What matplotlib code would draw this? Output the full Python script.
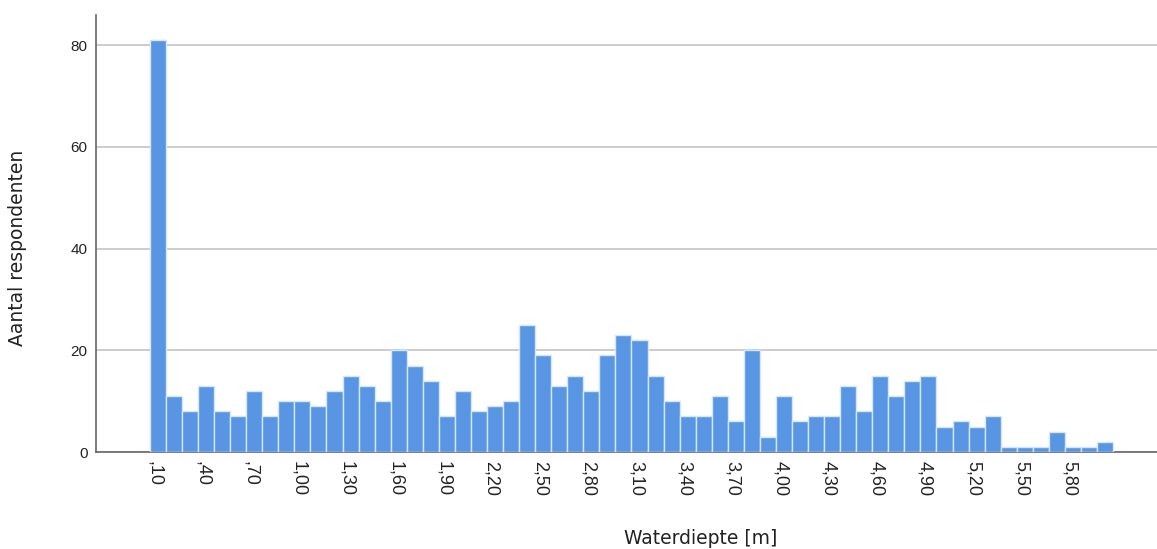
import matplotlib
matplotlib.use("Agg")
import matplotlib.pyplot as plt
import matplotlib.transforms as mtransforms

depths = [round(0.1 * i, 1) for i in range(1, 61)]
counts = [81, 11, 8, 13, 8, 7, 12, 7, 10, 10,
          9, 12, 15, 13, 10, 20, 17, 14, 7, 12,
          8, 9, 10, 25, 19, 13, 15, 12, 19, 23,
          22, 15, 10, 7, 7, 11, 6, 20, 3, 11,
          6, 7, 7, 13, 8, 15, 11, 14, 15, 5,
          6, 5, 7, 1, 1, 1, 4, 1, 1, 2]
tick_labels = [",10", ",40", ",70", "1,00", "1,30", "1,60", "1,90", "2,20", "2,50", "2,80",
               "3,10", "3,40", "3,70", "4,00", "4,30", "4,60", "4,90", "5,20", "5,50", "5,80"]
y_ticks = [0, 20, 40, 60, 80]

fig = plt.figure(figsize=(11.57, 5.49), dpi=100)
ax = fig.add_axes([96 / 1157, 1 - 452 / 549, (1157 - 96) / 1157, (452 - 15) / 549])

x = list(range(len(counts)))
ax.bar(x, counts, width=1.0, color="#5896e3", edgecolor="#d6e6f8", linewidth=1.0, zorder=3)

ax.set_xlim(-3.86, 62.24)
ax.set_ylim(0, 85.9)
ax.set_yticks(y_ticks)
ax.set_yticklabels([str(v) for v in y_ticks], fontsize=11, family="Liberation Sans")
tick_pos = x[::3]
ax.set_xticks(tick_pos)
ax.set_xticklabels([])
offset = mtransforms.ScaledTranslation(-3.5 / 100, -9 / 100, fig.dpi_scale_trans)
for pos, lab in zip(tick_pos, tick_labels):
    ax.text(pos, 0, lab, transform=ax.get_xaxis_transform() + offset,
            rotation=270, fontsize=13, family="Liberation Sans",
            ha="center", va="top", color="#222222", clip_on=False)
ax.tick_params(axis="both", length=0, pad=6, colors="#222222")
ax.yaxis.grid(True, color="#c4c4c4", linewidth=1.2, zorder=0)
ax.set_axisbelow(True)
for s in ["top", "right"]:
    ax.spines[s].set_visible(False)
for s in ["left", "bottom"]:
    ax.spines[s].set_color("#666666")
    ax.spines[s].set_linewidth(1.2)

fig.text(18 / 1157, 1 - 248 / 549, "Aantal respondenten", rotation=90, fontsize=13.5,
         family="DejaVu Sans", ha="center", va="center", color="#222222")
fig.text(701 / 1157, 1 - 539 / 549, "Waterdiepte [m]", fontsize=13.5,
         family="DejaVu Sans", ha="center", va="center", color="#222222")

fig.savefig("out.png", dpi=100)
